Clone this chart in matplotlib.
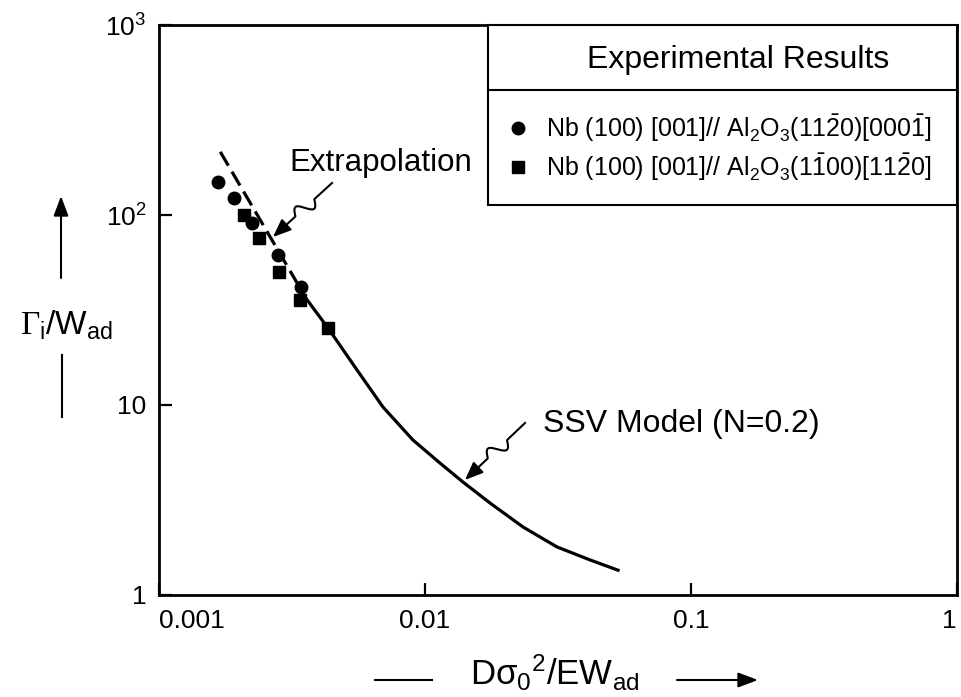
import numpy as np
import matplotlib
matplotlib.use('Agg')
from matplotlib import pyplot as plt

plt.rcParams['font.family'] = 'Liberation Sans'
plt.rcParams['mathtext.fontset'] = 'custom'
plt.rcParams['mathtext.rm'] = 'Liberation Sans'
plt.rcParams['mathtext.it'] = 'Liberation Sans:italic'
plt.rcParams['mathtext.cal'] = 'Liberation Serif'

# data
circle_x = [0.00166, 0.00192, 0.00224, 0.00279, 0.00343]
circle_y = [149, 123, 91, 61.5, 41.8]
square_x = [0.00208, 0.00238, 0.00282, 0.00340, 0.00433]
square_y = [100, 75.7, 50, 35.7, 25.4]

extrap_x = [0.00170, 0.00339]
extrap_y = [215, 41.3]

ssv_x = [0.00339, 0.00354, 0.00432, 0.00555, 0.00695, 0.00901, 0.01138, 0.01389,
         0.01755, 0.02336, 0.03136, 0.0417, 0.0532]
ssv_y = [41.3, 37.0, 25.4, 15.3, 9.76, 6.54, 4.95, 3.93, 3.05, 2.28, 1.79, 1.53, 1.35]

xticks = [0.001, 0.01, 0.1, 1]
xticklabels = ['0.001', '0.01', '0.1', '1']
yticks = [1, 10, 100, 1000]
yticklabels = ['1', '10', '$10^2$', '$10^3$']

legend_title = 'Experimental Results'
legend_labels = [r'Nb (100) [001]// Al$_2$O$_3$(11$\bar{2}$0)[000$\bar{1}$]',
                 r'Nb (100) [001]// Al$_2$O$_3$(1$\bar{1}$00)[11$\bar{2}$0]']

W, H = 961, 697
fig = plt.figure(figsize=(W / 100, H / 100), dpi=100)
L, R, T, B = 159, 957, 25, 595
ax = fig.add_axes([L / W, 1 - B / H, (R - L) / W, (B - T) / H])


def px(x, y):
    # pixel position -> figure fraction
    return (x / W, 1 - y / H)


ax.plot(ssv_x, ssv_y, '-', color='black', lw=2.3, solid_joinstyle='round')
ax.plot(extrap_x, extrap_y, '--', color='black', lw=2.3, dashes=(5, 2.2))
ax.plot(circle_x, circle_y, 'o', color='black', ms=9, ls='none')
ax.plot(square_x, square_y, 's', color='black', ms=8, ls='none')

ax.set_xscale('log')
ax.set_yscale('log')
ax.set_xlim(0.001, 1)
ax.set_ylim(1, 1000)
ax.minorticks_off()
ax.set_xticks(xticks)
ax.set_xticklabels(xticklabels)
ax.set_yticks(yticks)
ax.set_yticklabels(yticklabels)
ax.tick_params(direction='in', length=9, width=1.6, labelsize=19, colors='black')
ax.tick_params(axis='x', pad=10)
ax.tick_params(axis='y', pad=9)
xl = ax.get_xticklabels()
xl[0].set_ha('left')
xl[-1].set_ha('right')
for s in ax.spines.values():
    s.set_linewidth(2)


def squiggle_arrow(tail, tip):
    p0 = np.array(px(*tail)) * [W, H]
    p1 = np.array(px(*tip)) * [W, H]
    d = p1 - p0
    n = np.array([-d[1], d[0]]) / np.hypot(*d)
    t = np.linspace(0, 1, 200)
    win = (t > 0.3) & (t < 0.62)
    off = np.where(win, 7 * np.sin((t - 0.3) / 0.32 * 2 * np.pi), 0)
    pts = p0[None, :] + t[:, None] * d[None, :] + off[:, None] * n[None, :]
    fx = pts[:, 0] / W
    fy = pts[:, 1] / H
    fig.add_artist(plt.Line2D(fx[:-20], fy[:-20], color='black', lw=1.5,
                              transform=fig.transFigure))
    ax.annotate('', xy=(fx[-1], fy[-1]), xytext=(fx[-25], fy[-25]),
                xycoords='figure fraction', textcoords='figure fraction',
                arrowprops=dict(arrowstyle='-|>,head_length=1.1,head_width=0.45',
                                color='black', lw=1.5, shrinkA=0, shrinkB=0))


fig.text(*px(381, 163), 'Extrapolation', fontsize=22.5, ha='center', va='center')
squiggle_arrow((332, 183), (273, 237))

fig.text(*px(681, 424), 'SSV Model (N=0.2)', fontsize=23, ha='center', va='center')
squiggle_arrow((525, 423), (465, 480))

# legend box
lx0, lx1, ly0, ly1, ldiv = 488, 957, 25, 205, 90
fig.add_artist(plt.Rectangle(px(lx0, ly1), (lx1 - lx0) / W, (ly1 - ly0) / H,
                             fill=True, facecolor='white', edgecolor='black', lw=1.5,
                             transform=fig.transFigure, zorder=5))
fig.add_artist(plt.Line2D([lx0 / W, lx1 / W], [1 - ldiv / H] * 2, color='black', lw=1.5,
                          transform=fig.transFigure, zorder=6))
fig.text(*px(738, 60), legend_title, fontsize=23, ha='center', va='center', zorder=6)
for mk, ms, yy, lab in [('o', 9, 128, legend_labels[0]), ('s', 8, 167, legend_labels[1])]:
    fig.add_artist(plt.Line2D([518 / W], [1 - yy / H], marker=mk, ms=ms, color='black',
                              transform=fig.transFigure, zorder=6))
    fig.text(*px(546, yy), lab, fontsize=18, ha='left', va='center', zorder=6)

# axis labels with arrows
fig.text(*px(67, 325), r'$\mathcal{\Gamma}_{\rm i}$/W$_{\rm ad}$', fontsize=24,
         ha='center', va='center')
ax.annotate('', xy=px(61, 196), xytext=px(61, 278), xycoords='figure fraction',
            textcoords='figure fraction',
            arrowprops=dict(arrowstyle='-|>,head_length=1.2,head_width=0.45', color='black',
                            lw=1.5, shrinkA=0, shrinkB=0))
fig.add_artist(plt.Line2D([62 / W] * 2, [1 - 355 / H, 1 - 417 / H], color='black', lw=1.5,
                          transform=fig.transFigure))

fig.text(*px(555, 673), r'Dσ$_0$$^2$/EW$_{\rm ad}$', fontsize=25, ha='center',
         va='center')
fig.add_artist(plt.Line2D([375 / W, 432 / W], [1 - 680 / H] * 2, color='black', lw=1.5,
                          transform=fig.transFigure))
ax.annotate('', xy=px(758, 680), xytext=px(677, 680), xycoords='figure fraction',
            textcoords='figure fraction',
            arrowprops=dict(arrowstyle='-|>,head_length=1.2,head_width=0.45', color='black',
                            lw=1.5, shrinkA=0, shrinkB=0))

fig.savefig('out.png', dpi=100)
